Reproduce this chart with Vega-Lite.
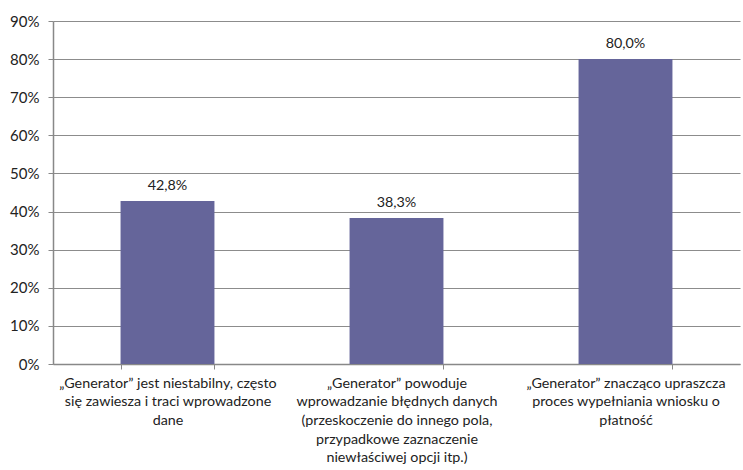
{
  "$schema": "https://vega.github.io/schema/vega-lite/v6.json",
  "width": 687,
  "height": 343,
  "autosize": "none",
  "padding": {"left": 53, "top": 21, "right": 3, "bottom": 106},
  "background": "white",
  "config": {
    "locale": {"number": {"decimal": ",", "thousands": " ", "grouping": [3], "currency": ["", " zł"]}},
    "font": "Lato",
    "view": {"stroke": null}
  },
  "data": {
    "values": [
      {"kategoria": "„Generator” jest niestabilny, często|się zawiesza  i traci wprowadzone|dane", "udzial": 0.428},
      {"kategoria": "„Generator” powoduje|wprowadzanie  błędnych danych|(przeskoczenie do innego pola,|przypadkowe zaznaczenie|niewłaściwej opcji itp.)", "udzial": 0.383},
      {"kategoria": "„Generator” znacząco upraszcza|proces wypełniania wniosku o|płatność", "udzial": 0.8}
    ]
  },
  "encoding": {
    "x": {
      "field": "kategoria",
      "type": "nominal",
      "sort": null,
      "scale": {"paddingInner": 0.59, "paddingOuter": 0.295},
      "axis": {
        "title": null,
        "labelAngle": 0,
        "labelExpr": "split(datum.label, '|')",
        "labelFontSize": 14.3,
        "labelColor": "#222",
        "labelLineHeight": 18.7,
        "labelPadding": 7,
        "labelLimit": 0,
        "tickBand": "extent",
        "tickSize": 5,
        "tickColor": "#888",
        "domainColor": "#888",
        "domainWidth": 1.5,
        "labelBaseline": "top"
      }
    },
    "y": {
      "field": "udzial",
      "type": "quantitative",
      "scale": {"domain": [0, 0.9], "nice": false},
      "axis": {
        "title": null,
        "format": ".0%",
        "values": [0, 0.1, 0.2, 0.3, 0.4, 0.5, 0.6, 0.7, 0.8, 0.9],
        "labelFontSize": 15,
        "labelColor": "#222",
        "labelPadding": 9,
        "tickSize": 5,
        "tickColor": "#888",
        "domainColor": "#888",
        "domainWidth": 1.5,
        "gridColor": "#8c8c8c",
        "gridWidth": 1
      }
    }
  },
  "layer": [
    {"mark": {"type": "bar", "color": "#65659a"}},
    {
      "mark": {"type": "text", "dy": -15, "fontSize": 14.3, "color": "#222"},
      "encoding": {"text": {"field": "udzial", "type": "quantitative", "format": ".1%"}}
    }
  ]
}
